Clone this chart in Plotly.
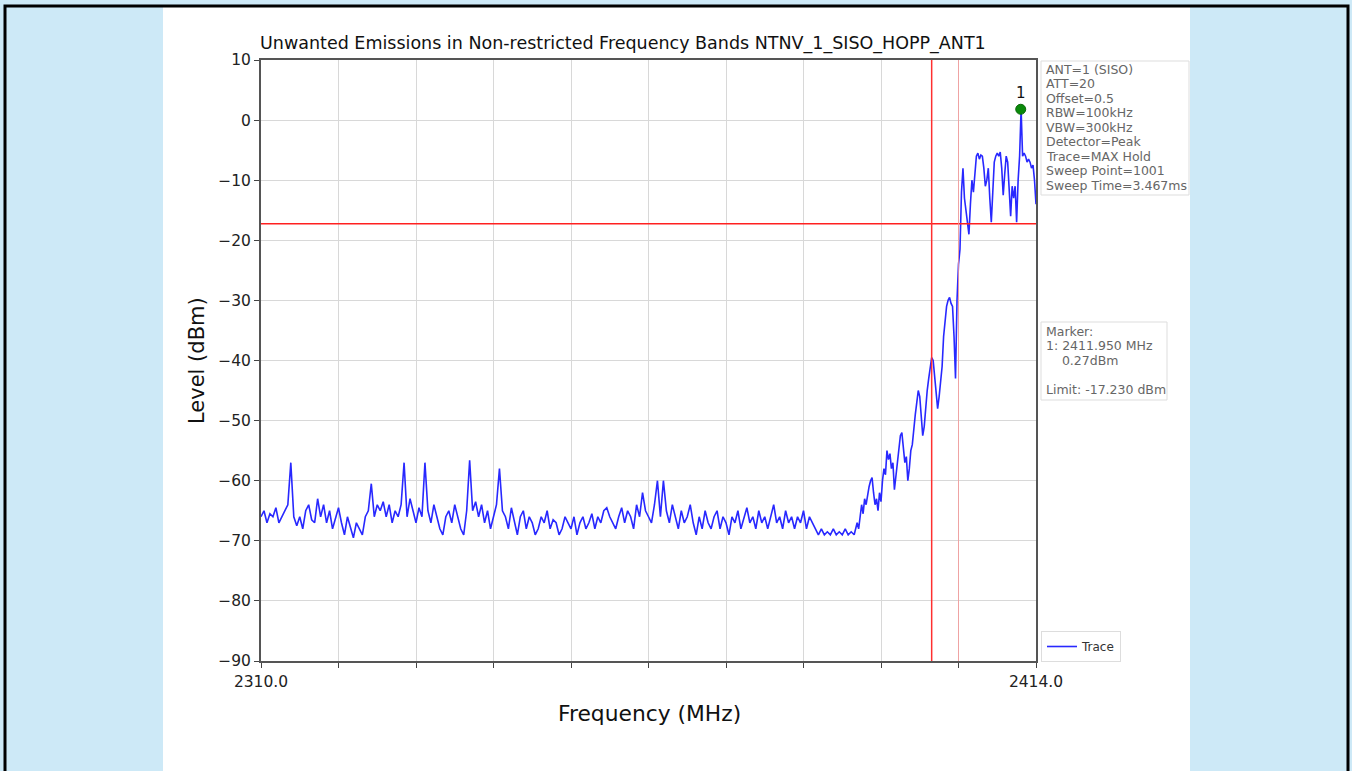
import plotly.graph_objects as go

# ---------------- data ----------------
# noise-floor section, sampled every 0.4 MHz from 2310.0 MHz
floor_start = 2310.0
floor_step = 0.4
floor_level = [
    -66, -65, -67, -65.5, -66, -64.5, -67, -66, -65, -64,
    -57, -66, -67.5, -66, -68, -65, -64, -66.5, -67, -63,
    -66, -64, -67, -65, -68, -66, -64.5, -67, -69, -66,
    -68, -69.5, -67, -68, -69, -66, -65, -60.5, -66, -64,
    -65, -63.5, -66, -64, -67, -65, -66, -64, -57, -66,
    -63, -65, -67, -64.5, -66, -57, -65, -67, -64, -66,
    -68, -69, -66, -65, -67, -64, -66, -68, -69, -65,
    -56.6, -65, -63.5, -66, -64, -67, -65, -68, -66, -64,
    -58, -65, -66, -68, -64.5, -67, -69, -66, -65, -68,
    -66, -67, -69, -68, -66, -67, -65, -68, -66.5, -67,
    -69, -68, -66, -67, -68, -66, -69, -67, -66, -68,
    -67, -65.5, -68, -66, -67, -65, -64.5, -66, -67, -68,
    -66, -64.5, -67, -65, -66, -68, -64, -66, -62, -65,
    -66, -67, -64, -60, -66, -60, -65, -67, -64, -66,
    -68, -65, -67, -66, -64, -67, -69, -66, -68, -65,
    -67, -68, -66, -65, -68, -66, -67, -69, -66, -67,
    -65, -68, -66, -64.5, -67, -66, -68, -65, -67, -66,
    -68, -66, -64, -67, -66, -68, -65, -67, -66, -68,
    -66, -67, -65, -68, -66, -67, -68, -69, -68, -69,
    -68.5, -69, -68, -69, -68.5, -69, -68, -69, -68.5, -69,
]
# band-edge / in-band section, sampled every 0.2 MHz from 2390.0 MHz
band_start = 2390.0
band_step = 0.2
band_level = [
    -67, -68, -66, -64, -65.5, -63, -64, -62, -61, -60,
    -59.5, -62, -64, -63, -65, -62, -63.5, -60, -58, -59,
    -55, -56.5, -55.5, -58, -57, -61.5, -59, -57, -54, -52.5,
    -52, -54, -57, -56, -60, -58, -55, -54, -51, -49,
    -47, -45, -46, -49, -52.5, -51, -47, -45, -43, -41,
    -39.5, -40, -43, -45, -48, -46, -44, -41, -36, -33,
    -31, -30, -29.5, -30.5, -31, -36, -43, -30, -24, -21.5,
    -12, -8, -13, -15, -17, -19, -14, -10, -12, -8,
    -6, -5.5, -6.5, -5.8, -6, -8, -11, -10, -8, -13,
    -17, -12, -7, -6, -5.5, -6, -5.3, -8, -12.5, -9,
    -6, -7, -12, -16, -11, -13, -11, -17, -10, -6,
    1.8, -6, -5.5, -6, -7, -6.5, -7, -8, -7.5, -10,
    -14,
]

limit_level = -17.23
band_edge_freq = 2400.0
aux_line_freq = 2403.6
marker_freq = [2411.95]
marker_level = [1.8]
marker_label = ["1"]

x_min, x_max = 2310.0, 2414.0
y_min, y_max = -90, 10
x_tick_vals = [2310.0 + 10.4 * k for k in range(11)]
x_tick_text = ["2310.0"] + [""] * 9 + ["2414.0"]
y_tick_vals = list(range(-90, 11, 10))

settings_lines = ["ANT=1 (SISO)", "ATT=20", "Offset=0.5", "RBW=100kHz", "VBW=300kHz",
                  "Detector=Peak", "Trace=MAX Hold", "Sweep Point=1001", "Sweep Time=3.467ms"]
marker_lines = ["Marker:", "1: 2411.950 MHz", "\u00a0\u00a0\u00a0\u00a00.27dBm", "", "Limit: -17.230 dBm"]

title_text = "Unwanted Emissions in Non-restricted Frequency Bands NTNV_1_SISO_HOPP_ANT1"

# ---------------- figure ----------------
freq = [floor_start + floor_step * i for i in range(len(floor_level))] + \
       [band_start + band_step * j for j in range(len(band_level))]
level = floor_level + band_level

W, H = 1352, 771
L, R, T, B = 261, 1036, 60, 661


def px(xp):
    return (xp - L) / (R - L)


def py(yp):
    return (B - yp) / (B - T)


FONT = "DejaVu Sans"

fig = go.Figure()
fig.add_trace(go.Scatter(x=freq, y=level, mode="lines", name="Trace",
                         line=dict(color="rgb(40,40,255)", width=1.6)))
fig.add_trace(go.Scatter(x=marker_freq, y=marker_level, mode="markers+text", text=marker_label,
                         textposition="top center", showlegend=False,
                         textfont=dict(family=FONT, size=15, color="#111"),
                         marker=dict(color="#0a8a0a", size=10, line=dict(color="#0a6a0a", width=1))))

shapes = [
    dict(type="rect", xref="paper", yref="paper", x0=px(163), x1=px(1190), y0=py(800), y1=py(7),
         fillcolor="white", line=dict(width=0), layer="below"),
    dict(type="rect", xref="paper", yref="paper", x0=px(5), x1=px(1348), y0=py(820), y1=py(6),
         fillcolor="rgba(0,0,0,0)", line=dict(color="black", width=3), layer="above"),
    # info boxes
    dict(type="rect", xref="paper", yref="paper", x0=px(1041), x1=px(1189), y0=py(195), y1=py(61),
         fillcolor="white", line=dict(color="#dddddd", width=1), layer="above"),
    dict(type="rect", xref="paper", yref="paper", x0=px(1041), x1=px(1167), y0=py(400), y1=py(322),
         fillcolor="white", line=dict(color="#dddddd", width=1), layer="above"),
    # limit line
    dict(type="line", xref="x", yref="y", x0=x_min, x1=x_max, y0=limit_level, y1=limit_level,
         line=dict(color="#ff2020", width=1.5)),
    # band edge
    dict(type="line", xref="x", yref="y", x0=band_edge_freq, x1=band_edge_freq, y0=y_min, y1=y_max,
         line=dict(color="#ff3030", width=1.5)),
    dict(type="line", xref="x", yref="y", x0=aux_line_freq, x1=aux_line_freq, y0=y_min, y1=y_max,
         line=dict(color="rgba(245,150,150,0.8)", width=1)),
]

annotations = [
    dict(text=title_text, xref="paper", yref="paper", x=px(258), y=py(43), xanchor="left",
         yanchor="middle", showarrow=False, font=dict(family=FONT, size=17.5, color="#111")),
    dict(text="Frequency (MHz)", xref="paper", yref="paper", x=px(649), y=py(713), xanchor="center",
         yanchor="middle", showarrow=False, font=dict(family=FONT, size=21.8, color="#111")),
    dict(text="Level (dBm)", xref="paper", yref="paper", x=px(197), y=py(361), xanchor="center",
         yanchor="middle", textangle=-90, showarrow=False, font=dict(family=FONT, size=21, color="#111")),
]
for k, s in enumerate(settings_lines):
    annotations.append(dict(text=s, xref="paper", yref="paper", x=px(1044), y=py(69 + 14.5 * k),
                            xanchor="left", yanchor="middle", showarrow=False,
                            font=dict(family=FONT, size=12.5, color="#666")))
for k, s in enumerate(marker_lines):
    if s:
        annotations.append(dict(text=s, xref="paper", yref="paper", x=px(1044), y=py(331 + 14.7 * k),
                                xanchor="left", yanchor="middle", showarrow=False,
                                font=dict(family=FONT, size=12.5, color="#666")))

fig.update_layout(
    width=W, height=H,
    margin=dict(l=L, r=W - R, t=T, b=H - B, pad=0),
    paper_bgcolor="#cde9f7",
    plot_bgcolor="white",
    font=dict(family=FONT, size=15, color="#222"),
    shapes=shapes,
    annotations=annotations,
    showlegend=True,
    legend=dict(x=px(1041), y=py(662), xanchor="left", yanchor="bottom",
                bordercolor="#dddddd", borderwidth=1, bgcolor="white",
                font=dict(family=FONT, size=12, color="#333"), itemwidth=30,
                tracegroupgap=0),
)
fig.update_xaxes(range=[x_min, x_max], tickvals=x_tick_vals, ticktext=x_tick_text,
                 showgrid=True, gridcolor="#d8d8d8", gridwidth=1, zeroline=False,
                 showline=True, mirror=True, linecolor="#555", linewidth=2,
                 ticks="outside", ticklen=5, tickcolor="#444",
                 tickfont=dict(family=FONT, size=15.5, color="#222"))
fig.update_yaxes(range=[y_min, y_max], tickvals=y_tick_vals,
                 showgrid=True, gridcolor="#d8d8d8", gridwidth=1, zeroline=False,
                 showline=True, mirror=True, linecolor="#555", linewidth=2,
                 ticks="outside", ticklen=5, tickcolor="#444",
                 tickfont=dict(family=FONT, size=15.5, color="#222"))

fig.write_html("out.html", config={"displayModeBar": False},
               post_script="document.body.style.margin='0';")
